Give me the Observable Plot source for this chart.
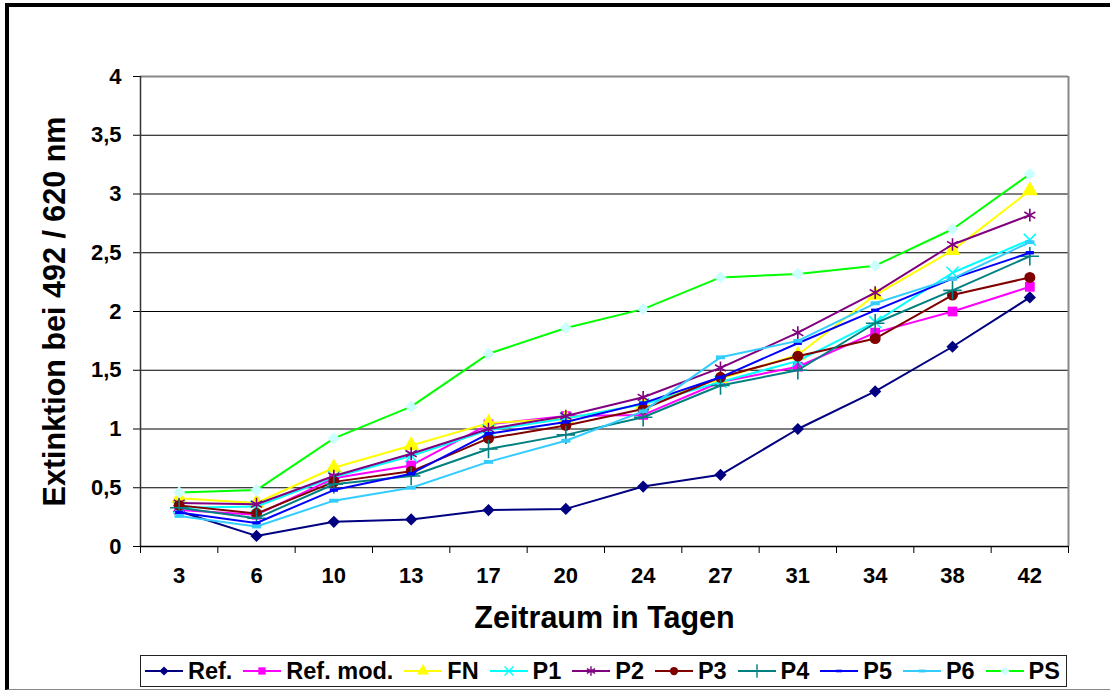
<!DOCTYPE html>
<html>
<head>
<meta charset="utf-8">
<script src="https://cdn.jsdelivr.net/npm/d3@7"></script>
<script src="https://cdn.jsdelivr.net/npm/@observablehq/plot@0.6"></script>
<style>
  body { margin: 0; background: #fff; }
  #wrap { position: relative; width: 1110px; height: 691px; overflow: hidden; background: #fff;
          font-family: Arial, "Liberation Sans", sans-serif; }
  #frame { position: absolute; left: 5px; top: 3px; width: 1200px; height: 682px;
           border-left: 4px solid #000; border-top: 4px solid #000; border-bottom: 1px solid #888; }
  #chart { position: absolute; left: 0; top: 0; }
  #chart svg text { font-weight: bold; }
  #legend { position: absolute; left: 140px; top: 655px; width: 927px; height: 32px; box-sizing: border-box;
            border: 1px solid #222; display: flex; align-items: center; justify-content: space-between;
            padding: 0 6px 0 4px; font-size: 23.5px; font-weight: bold; color: #000; background: #fff; }
  .item { display: flex; align-items: center; white-space: nowrap; }
  .item svg { margin-right: 5px; }
</style>
</head>
<body>
<div id="wrap">
  <div id="frame"></div>
  <div id="chart"></div>
  <div id="legend"></div>
</div>
<script>
// ---- data ----
const days = [3, 6, 10, 13, 17, 20, 24, 27, 31, 34, 38, 42];
const seriesNames = ["Ref.", "Ref. mod.", "FN", "P1", "P2", "P3", "P4", "P5", "P6", "PS"];
const ref    = [0.30, 0.09, 0.21, 0.23, 0.31, 0.32, 0.51, 0.61, 1.00, 1.32, 1.70, 2.12];
const refMod = [0.31, 0.27, 0.58, 0.69, 1.04, 1.11, 1.12, 1.40, 1.53, 1.82, 2.00, 2.21];
const fn     = [0.41, 0.37, 0.67, 0.86, 1.05, 1.09, 1.21, 1.43, 1.63, 2.14, 2.52, 3.03];
const p1     = [0.33, 0.34, 0.59, 0.77, 0.99, 1.09, 1.21, 1.40, 1.58, 1.91, 2.33, 2.61];
const p2     = [0.37, 0.36, 0.60, 0.79, 1.00, 1.11, 1.27, 1.52, 1.82, 2.16, 2.57, 2.82];
const p3     = [0.35, 0.28, 0.55, 0.64, 0.92, 1.03, 1.17, 1.44, 1.62, 1.77, 2.14, 2.29];
const p4     = [0.33, 0.24, 0.53, 0.60, 0.83, 0.95, 1.10, 1.37, 1.50, 1.90, 2.18, 2.47];
const p5     = [0.29, 0.20, 0.48, 0.62, 0.96, 1.06, 1.22, 1.44, 1.73, 2.01, 2.28, 2.50];
const p6     = [0.26, 0.17, 0.39, 0.50, 0.72, 0.90, 1.15, 1.61, 1.75, 2.07, 2.28, 2.59];
const ps     = [0.46, 0.48, 0.92, 1.19, 1.64, 1.86, 2.02, 2.29, 2.32, 2.39, 2.70, 3.17];
const seriesValues = [ref, refMod, fn, p1, p2, p3, p4, p5, p6, ps];
const yTicks = [0, 0.5, 1, 1.5, 2, 2.5, 3, 3.5, 4];
const yTitle = "Extinktion bei 492 / 620 nm";
const xTitle = "Zeitraum in Tagen";

// ---- styles ----
const dash = { draw(ctx, size) { const w = Math.sqrt(size) * 1.15, h = w * 0.42; ctx.rect(-w / 2, -h / 2, w, h); } };
const styles = [
  { line: "#000080", mark: "#000080", symbol: "diamond2", filled: true, r: 5.5 },
  { line: "#FF00FF", mark: "#FF00FF", symbol: "square", filled: true, r: 5.5 },
  { line: "#FFFF00", mark: "#FFFF00", symbol: "triangle", filled: true, r: 6 },
  { line: "#00FFFF", mark: "#00FFFF", symbol: "times", filled: false, r: 5.5 },
  { line: "#800080", mark: "#800080", symbol: "asterisk", filled: false, r: 6 },
  { line: "#800000", mark: "#800000", symbol: "circle", filled: true, r: 5.5 },
  { line: "#008080", mark: "#008080", symbol: "plus", filled: false, r: 6 },
  { line: "#0000FF", mark: "#0000FF", symbol: dash, filled: true, r: 4 },
  { line: "#33CCFF", mark: "#33CCFF", symbol: dash, filled: true, r: 4.5 },
  { line: "#00FF00", mark: "#CCFFFF", symbol: "diamond2", filled: true, r: 5.5 }
];

// ---- table ----
const rows = seriesNames.flatMap((name, s) =>
  seriesValues[s].map((v, i) => ({ series: name, s, idx: i + 0.5, day: days[i], value: v })));

const marks = [
  Plot.ruleY(yTicks.filter(d => d < 4), { stroke: "#000", strokeWidth: 1 }),
  Plot.ruleY([4], { stroke: "#888", strokeWidth: 2 }),
  Plot.ruleX([days.length], { y1: 0, y2: 4, stroke: "#888", strokeWidth: 2 }),
  Plot.axisX({ ticks: d3.range(days.length + 1), tickSize: 7, tickFormat: () => "", stroke: "#000", label: null }),
  Plot.axisY({ ticks: yTicks, tickSize: 7, tickPadding: 12, fontSize: 22, label: null,
               tickFormat: d => String(d).replace(".", ","), stroke: "#000" }),
  Plot.ruleX([0], { stroke: "#333", strokeWidth: 1.5 }),
  Plot.ruleY([0], { stroke: "#000", strokeWidth: 1.5 }),
  Plot.text(days, { x: (d, i) => i + 0.5, frameAnchor: "bottom", dy: 36, text: d => String(d), fontSize: 22, fill: "#000" }),
  Plot.text([xTitle], { frameAnchor: "bottom", dy: 81, fontSize: 30.5, fill: "#000" }),
  Plot.text([yTitle], { frameAnchor: "left", textAnchor: "middle", dx: -85, rotate: -90, fontSize: 30.5, fill: "#000" })
];

seriesNames.forEach((name, s) => {
  const st = styles[s];
  const data = rows.filter(r => r.s === s);
  marks.push(Plot.line(data, { x: "idx", y: "value", stroke: st.line, strokeWidth: 2 }));
  marks.push(Plot.dot(data, st.filled
    ? { x: "idx", y: "value", symbol: () => st.symbol, fill: st.mark, stroke: "none", r: st.r }
    : { x: "idx", y: "value", symbol: () => st.symbol, stroke: st.mark, fill: "none", strokeWidth: 1.6, r: st.r }));
});

const chart = Plot.plot({
  width: 1110,
  height: 640,
  marginLeft: 140,
  marginRight: 42,
  marginTop: 76,
  marginBottom: 94,
  style: { fontFamily: "Arial, 'Liberation Sans', sans-serif", background: "transparent", color: "#000" },
  x: { type: "linear", domain: [0, days.length] },
  y: { type: "linear", domain: [0, 4] },
  symbol: { type: "identity" },
  marks
});
document.getElementById("chart").appendChild(chart);

// ---- legend ----
const legend = d3.select("#legend");
seriesNames.forEach((name, s) => {
  const st = styles[s];
  const it = legend.append("div").attr("class", "item");
  const svg = it.append("svg").attr("width", 38).attr("height", 20);
  svg.append("line").attr("x1", 0).attr("x2", 38).attr("y1", 10).attr("y2", 10)
     .attr("stroke", st.line).attr("stroke-width", 2);
  const symType = typeof st.symbol === "string"
    ? { diamond2: d3.symbolDiamond2, square: d3.symbolSquare, triangle: d3.symbolTriangle, times: d3.symbolTimes,
        asterisk: d3.symbolAsterisk, circle: d3.symbolCircle, plus: d3.symbolPlus }[st.symbol]
    : st.symbol;
  const rr = st.r * 0.75;
  svg.append("path").attr("transform", "translate(19,10)")
     .attr("d", d3.symbol(symType, Math.PI * rr * rr)())
     .attr("fill", st.filled ? st.mark : "none")
     .attr("stroke", st.filled ? "none" : st.mark)
     .attr("stroke-width", st.filled ? 0 : 1.4);
  it.append("span").text(name);
});
</script>
</body>
</html>
